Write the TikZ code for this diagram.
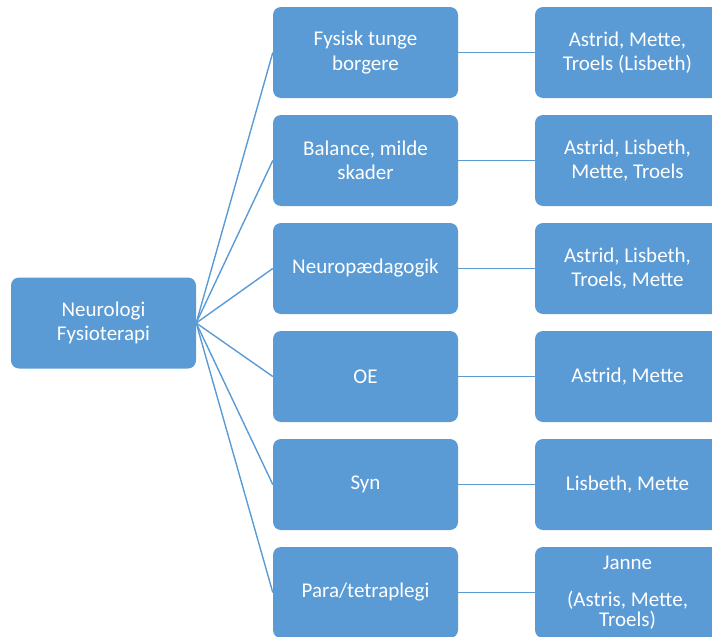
\documentclass[tikz,border=0pt]{standalone}
\usepackage{fontspec}
\setmainfont{Carlito}
\definecolor{boxblue}{RGB}{91,155,213}

\begin{document}
\begin{tikzpicture}[x=1pt, y=-1pt]
            \tikzstyle{box} = [fill=boxblue, rounded corners=8pt, minimum width=185pt, minimum height=91pt, inner sep=0pt, align=center, text=white, font=\fontsize{21}{24.5}\selectfont]
            \tikzstyle{link} = [draw=boxblue, line width=1.4pt]
            \useasboundingbox (0, 0) rectangle (712, 637);
            \begin{scope}
                \clip (0, 0) rectangle (712, 637);
                \node[box] (root) at (103.5, 323) {Neurologi\\Fysioterapi};
                \node[box] (tunge) at (365.5, 52.5) {Fysisk tunge\\borgere};
                \node[box] (balance) at (365.5, 160.5) {Balance, milde\\skader};
                \node[box] (neuro) at (365.5, 268.5) {Neuropædagogik};
                \node[box] (oe) at (365.5, 376.5) {OE};
                \node[box] (syn) at (365.5, 484.5) {Syn};
                \node[box] (para) at (365.5, 592.5) {Para/tetraplegi};
                \node[box] (tungeP) at (627.5, 52.5) {Astrid, Mette,\\Troels (Lisbeth)};
                \node[box] (balanceP) at (627.5, 160.5) {Astrid, Lisbeth,\\Mette, Troels};
                \node[box] (neuroP) at (627.5, 268.5) {Astrid, Lisbeth,\\Troels, Mette};
                \node[box] (oeP) at (627.5, 376.5) {Astrid, Mette};
                \node[box] (synP) at (627.5, 484.5) {Lisbeth, Mette};
                \node[box] (paraP) at (627.5, 592.5) {Janne\\[12pt](Astris, Mette,\\[-4.5pt]Troels)};
                \draw[link] (root.east) -- (tunge.west);
                \draw[link] (root.east) -- (balance.west);
                \draw[link] (root.east) -- (neuro.west);
                \draw[link] (root.east) -- (oe.west);
                \draw[link] (root.east) -- (syn.west);
                \draw[link] (root.east) -- (para.west);
                \draw[link] (tunge.east) -- (tungeP.west);
                \draw[link] (balance.east) -- (balanceP.west);
                \draw[link] (neuro.east) -- (neuroP.west);
                \draw[link] (oe.east) -- (oeP.west);
                \draw[link] (syn.east) -- (synP.west);
                \draw[link] (para.east) -- (paraP.west);
            \end{scope}
        \end{tikzpicture}
\end{document}
